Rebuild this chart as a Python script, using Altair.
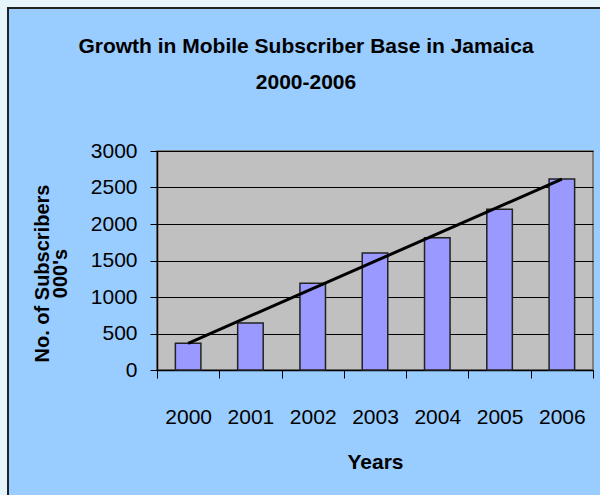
import altair as alt
import pandas as pd

years = [2000, 2001, 2002, 2003, 2004, 2005, 2006]
subscribers = [366, 644, 1187, 1603, 1813, 2201, 2616]
y_ticks = [0, 500, 1000, 1500, 2000, 2500, 3000]

title_lines = ["Growth in Mobile Subscriber Base in Jamaica", "2000-2006"]
y_title = ["No. of Subscribers", "000's"]
x_title = "Years"

df = pd.DataFrame({"year": years, "subs": subscribers})

FONT = "Liberation Sans, Arial, sans-serif"

x_enc = alt.X(
    "year:O",
    scale=alt.Scale(paddingInner=0, paddingOuter=0),
    axis=alt.Axis(
        title=x_title,
        labelAngle=0,
        tickBand="extent",
        tickSize=8,
        tickColor="black",
        domainColor="black",
        domainWidth=1.5,
        labelFont=FONT,
        labelFontSize=21,
        labelColor="black",
        labelBaseline="alphabetic",
        labelPadding=45,
        titleFont=FONT,
        titleFontSize=21,
        titleFontWeight="bold",
        titleColor="black",
        titleBaseline="alphabetic",
        titleY=98,
    ),
)

y_enc = alt.Y(
    "subs:Q",
    scale=alt.Scale(domain=[0, 3000], nice=False),
    axis=alt.Axis(
        title=y_title,
        values=y_ticks,
        format="d",
        grid=True,
        gridColor="black",
        gridWidth=1,
        tickSize=7,
        tickColor="black",
        domainColor="black",
        domainWidth=1.5,
        labelFont=FONT,
        labelFontSize=21,
        labelColor="black",
        labelPadding=13,
        labelOverlap=False,
        titleFont=FONT,
        titleFontSize=20,
        titleFontWeight="bold",
        titleColor="black",
        titleBaseline="alphabetic",
        titleAlign="center",
        titleLineHeight=18,
        titleX=-109,
        titleY=122,
    ),
)

bars = alt.Chart(df).mark_bar(
    width=alt.RelativeBandSize(0.41),
    color="#9999FF",
    stroke="#222222",
    strokeWidth=1.5,
).encode(x=x_enc, y=y_enc)

trend = alt.Chart(df).transform_regression("year", "subs").mark_line(
    color="black", strokeWidth=3
).encode(x=x_enc, y=y_enc)

frame_data = alt.Data(values=[{}])
outer_strip = alt.Chart(frame_data).mark_rect(
    fill=None, stroke="#E6F5FB", strokeWidth=14
).encode(
    x=alt.value(-157), x2=alt.value(470), y=alt.value(-151), y2=alt.value(370)
)
border = alt.Chart(frame_data).mark_rect(
    fill=None, stroke="#222222", strokeWidth=2
).encode(
    x=alt.value(-149), x2=alt.value(470), y=alt.value(-143), y2=alt.value(370)
)

chart = alt.layer(outer_strip, border, bars, trend).properties(
    width=436,
    height=219,
    autosize=alt.AutoSizeParams(type="none"),
    padding={"left": 157, "top": 151, "right": 7, "bottom": 125},
    background="#99CCFF",
    title=alt.TitleParams(
        text=title_lines,
        font=FONT,
        fontSize=21,
        fontWeight="bold",
        color="black",
        anchor="middle",
        dx=-69,
        baseline="bottom",
        offset=-121,
        lineHeight=36,
    ),
).configure_view(
    fill="#C0C0C0", stroke="#808080", strokeWidth=2
)

chart.save("out.html", embed_options={"renderer": "svg", "actions": False})
